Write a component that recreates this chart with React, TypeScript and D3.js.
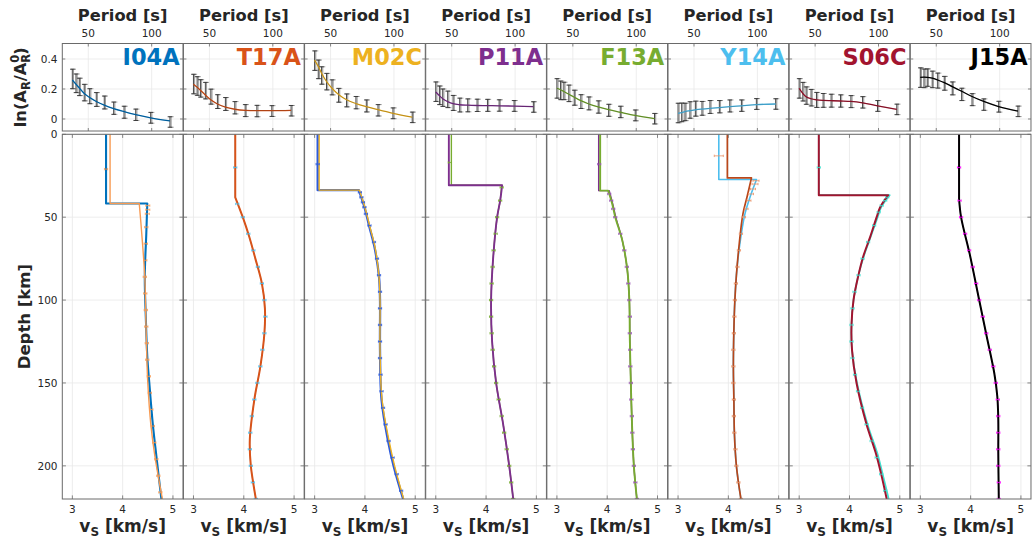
import React from 'react';
import * as d3 from 'd3';

type Pt = [number, number];
type Mk = [number, number, number?];

// ---------- categories ----------
const stations = ['I04A', 'T17A', 'M02C', 'P11A', 'F13A', 'Y14A', 'S06C', 'J15A'];
const stationColors = ['#0072BD', '#D95319', '#EDB120', '#7E2F8E', '#77AC30', '#4DBEEE', '#A2142F', '#000000'];

// ---------- tick labels ----------
const periodTicks = [50, 100];
const ampTicks = [0, 0.2, 0.4];
const ampTickLabels = ['0', '0.2', '0.4'];
const vsTicks = [3, 4, 5];
const depthTicks = [0, 50, 100, 150, 200];

// ---------- amplification data (top row) ----------
const periods = [37.4, 40.3, 42.9, 46.8, 51.1, 56.3, 62.6, 70.0, 78.2, 87.4, 99.2, 114.4];
const ampErr = [0.065, 0.062, 0.058, 0.055, 0.05, 0.046, 0.043, 0.041, 0.04, 0.038, 0.036, 0.035];

const obsI04A = [0.267, 0.238, 0.214, 0.176, 0.152, 0.130, 0.110, 0.072, 0.045, 0.028, 0.008, -0.020];
const fitI04A = [0.260, 0.232, 0.207, 0.170, 0.143, 0.117, 0.092, 0.069, 0.049, 0.029, 0.008, -0.013];
const obsT17A = [0.233, 0.220, 0.204, 0.189, 0.149, 0.116, 0.100, 0.075, 0.056, 0.053, 0.053, 0.055];
const fitT17A = [0.232, 0.212, 0.192, 0.160, 0.128, 0.100, 0.079, 0.065, 0.058, 0.056, 0.056, 0.058];
const obsM02C = [0.389, 0.331, 0.290, 0.249, 0.211, 0.158, 0.124, 0.109, 0.087, 0.058, 0.038, 0.011];
const fitM02C = [0.393, 0.350, 0.305, 0.250, 0.205, 0.163, 0.128, 0.103, 0.082, 0.062, 0.038, 0.012];
const obsP11A = [0.182, 0.158, 0.142, 0.131, 0.107, 0.093, 0.091, 0.091, 0.091, 0.090, 0.087, 0.080];
const fitP11A = [0.180, 0.155, 0.135, 0.116, 0.102, 0.095, 0.092, 0.090, 0.089, 0.088, 0.086, 0.082];
const obsF13A = [0.204, 0.191, 0.187, 0.171, 0.142, 0.116, 0.104, 0.080, 0.058, 0.047, 0.024, 0.002];
const fitF13A = [0.205, 0.195, 0.183, 0.165, 0.145, 0.122, 0.100, 0.080, 0.062, 0.045, 0.024, 0.003];
const obsY14A = [0.040, 0.044, 0.047, 0.060, 0.069, 0.071, 0.080, 0.082, 0.087, 0.089, 0.100, 0.100];
const fitY14A = [0.038, 0.043, 0.049, 0.055, 0.061, 0.066, 0.071, 0.076, 0.082, 0.088, 0.096, 0.100];
const obsS06C = [0.204, 0.182, 0.156, 0.142, 0.127, 0.124, 0.122, 0.120, 0.116, 0.111, 0.087, 0.064];
const fitS06C = [0.204, 0.170, 0.148, 0.135, 0.128, 0.124, 0.122, 0.120, 0.117, 0.108, 0.088, 0.064];
const obsJ15A = [0.276, 0.271, 0.276, 0.264, 0.256, 0.238, 0.204, 0.164, 0.129, 0.096, 0.082, 0.051];
const fitJ15A = [0.278, 0.279, 0.278, 0.272, 0.260, 0.243, 0.216, 0.185, 0.150, 0.117, 0.083, 0.053];

// ---------- shear velocity profiles (bottom row): [depth km, vs km/s]
// first two points = crust (constant), remaining = mantle
const i04aMain: Pt[] = [[0, 3.67], [41.7, 3.67], [41.7, 4.49], [60, 4.47], [86, 4.44], [110, 4.46], [134, 4.49], [150, 4.53], [175, 4.60], [194, 4.67], [220, 4.77]];
const i04aAlt: Pt[] = [[0, 3.75], [41.7, 3.75], [41.7, 4.33], [60, 4.38], [86, 4.44], [110, 4.46], [134, 4.48], [150, 4.50], [175, 4.56], [194, 4.64], [220, 4.79]];
const i04aErr: Mk[] = [[21, 3.67], [43, 4.50, 0.04], [45.5, 4.50, 0.04], [48, 4.49, 0.04], [56, 4.47], [66, 4.46], [76, 4.45], [86, 4.44], [96, 4.45], [106, 4.46], [116, 4.47], [126, 4.48], [136, 4.49], [146, 4.52], [156, 4.54], [166, 4.57], [176, 4.60], [186, 4.63], [196, 4.67], [206, 4.71], [216, 4.75]];

const t17aMain: Pt[] = [[0, 3.83], [38, 3.83], [38, 3.83], [50, 3.98], [62, 4.11], [75, 4.23], [90, 4.36], [105, 4.42], [120, 4.41], [140, 4.33], [160, 4.21], [184, 4.12], [200, 4.14], [220, 4.24]];
const t17aErr: Mk[] = [[20, 3.83], [42, 3.87], [50, 3.98], [60, 4.09], [70, 4.19], [80, 4.28], [90, 4.36], [100, 4.41], [110, 4.43], [120, 4.41], [130, 4.37], [140, 4.33], [150, 4.27], [160, 4.21], [170, 4.16], [180, 4.13], [190, 4.12], [200, 4.14], [210, 4.18], [220, 4.24]];

const m02cMain: Pt[] = [[0, 3.09], [33.7, 3.09], [33.7, 3.89], [44, 4.00], [56, 4.10], [68, 4.20], [86, 4.28], [100, 4.30], [130, 4.30], [160, 4.34], [185, 4.48], [200, 4.59], [220, 4.77]];
const m02cAlt: Pt[] = [[0, 3.06], [33.7, 3.06], [33.7, 3.88], [44, 3.99], [56, 4.09], [68, 4.19], [86, 4.28], [100, 4.30], [130, 4.30], [160, 4.33], [185, 4.46], [200, 4.57], [220, 4.76]];
const m02cErr: Mk[] = [[18, 3.06], [35, 3.90], [38, 3.93], [41, 3.96], [44, 3.99], [48, 4.02], [55, 4.09], [65, 4.18], [75, 4.24], [85, 4.28], [95, 4.30], [105, 4.30], [115, 4.30], [125, 4.30], [135, 4.30], [145, 4.31], [155, 4.33], [165, 4.36], [175, 4.41], [185, 4.47], [195, 4.55], [205, 4.63], [215, 4.72]];

const p11aMain: Pt[] = [[0, 3.26], [30.7, 3.26], [30.7, 4.32], [40, 4.28], [50, 4.22], [75, 4.14], [100, 4.10], [125, 4.12], [150, 4.20], [175, 4.34], [200, 4.46], [220, 4.54]];
const p11aAlt: Pt[] = [[0, 3.31], [30.7, 3.31], [30.7, 4.31], [40, 4.28], [50, 4.22], [75, 4.14], [100, 4.10], [125, 4.12], [150, 4.20], [175, 4.34], [200, 4.46], [220, 4.54]];
const p11aErr: Mk[] = [[17, 3.28], [32, 4.31], [40, 4.28], [50, 4.22], [60, 4.19], [70, 4.15], [80, 4.13], [90, 4.11], [100, 4.10], [110, 4.10], [120, 4.11], [130, 4.13], [140, 4.16], [150, 4.20], [160, 4.25], [170, 4.31], [180, 4.36], [190, 4.41], [200, 4.46], [210, 4.50], [220, 4.54]];

const f13aMain: Pt[] = [[0, 3.86], [34, 3.86], [34, 4.02], [42, 4.10], [50, 4.16], [64, 4.30], [82, 4.40], [100, 4.44], [124, 4.45], [150, 4.47], [172, 4.49], [200, 4.53], [220, 4.59]];
const f13aAlt: Pt[] = [[0, 3.83], [34, 3.83], [34, 4.04], [42, 4.11], [50, 4.17], [64, 4.30], [82, 4.40], [100, 4.44], [124, 4.45], [150, 4.47], [172, 4.49], [200, 4.53], [220, 4.59]];
const f13aErr: Mk[] = [[18, 3.84], [36, 4.04], [40, 4.08], [45, 4.12], [50, 4.16], [60, 4.26], [70, 4.34], [80, 4.39], [90, 4.42], [100, 4.44], [110, 4.45], [120, 4.45], [130, 4.46], [140, 4.46], [150, 4.47], [160, 4.48], [170, 4.49], [180, 4.50], [190, 4.51], [200, 4.53], [210, 4.56], [220, 4.59]];

const y14aMain: Pt[] = [[0, 3.81], [27.3, 3.81], [27.3, 4.56], [38, 4.43], [48, 4.33], [68, 4.22], [85, 4.16], [100, 4.13], [118, 4.11], [140, 4.10], [160, 4.11], [180, 4.12], [200, 4.16], [220, 4.25]];
const y14aAlt: Pt[] = [[0, 3.98], [26.3, 3.98], [26.3, 4.46], [38, 4.37], [48, 4.29], [68, 4.21], [85, 4.16], [100, 4.13], [118, 4.11], [140, 4.10], [160, 4.11], [180, 4.12], [200, 4.16], [220, 4.25]];
const y14aErr: Mk[] = [[13, 3.81, 0.09], [28, 4.55, 0.06], [30, 4.53, 0.06], [33, 4.49, 0.05], [36, 4.45, 0.05], [40, 4.41, 0.04], [45, 4.36], [50, 4.31], [60, 4.25], [70, 4.21], [80, 4.18], [90, 4.15], [100, 4.13], [110, 4.12], [120, 4.11], [130, 4.10], [140, 4.10], [150, 4.10], [160, 4.11], [170, 4.11], [180, 4.12], [190, 4.14], [200, 4.16], [210, 4.20], [220, 4.25]];

const s06cMain: Pt[] = [[0, 3.39], [36.7, 3.39], [36.7, 4.77], [44, 4.61], [50, 4.54], [62, 4.41], [74, 4.27], [86, 4.17], [100, 4.08], [115, 4.04], [130, 4.05], [150, 4.14], [175, 4.34], [192, 4.52], [205, 4.63], [220, 4.74]];
const s06cAlt: Pt[] = [[0, 3.39], [36.7, 3.39], [36.7, 4.80], [44, 4.63], [50, 4.56], [62, 4.42], [74, 4.28], [86, 4.17], [100, 4.08], [115, 4.04], [130, 4.05], [150, 4.15], [175, 4.36], [192, 4.55], [205, 4.66], [220, 4.78]];
const s06cErr: Mk[] = [[20, 3.39], [38, 4.75], [40, 4.71], [43, 4.64], [47, 4.58], [55, 4.49], [65, 4.37], [75, 4.26], [85, 4.18], [95, 4.10], [105, 4.06], [115, 4.04], [125, 4.04], [135, 4.06], [145, 4.11], [155, 4.17], [165, 4.25], [175, 4.34], [185, 4.44], [195, 4.54], [205, 4.63], [215, 4.71]];

const j15aMain: Pt[] = [[0, 3.77], [38.7, 3.77], [38.7, 3.77], [50, 3.81], [72, 3.98], [100, 4.17], [122, 4.32], [144, 4.47], [158, 4.53], [172, 4.55], [192, 4.55], [220, 4.56]];
const j15aErr: Mk[] = [[20, 3.77], [40, 3.78], [50, 3.81], [60, 3.89], [70, 3.97], [80, 4.04], [90, 4.11], [100, 4.17], [110, 4.24], [120, 4.31], [130, 4.38], [140, 4.45], [150, 4.50], [160, 4.54], [170, 4.55], [180, 4.55], [190, 4.55], [200, 4.55], [210, 4.56], [220, 4.56]];

// ---------- assembled per-panel tables ----------
const ampObs = [obsI04A, obsT17A, obsM02C, obsP11A, obsF13A, obsY14A, obsS06C, obsJ15A];
const ampFit = [fitI04A, fitT17A, fitM02C, fitP11A, fitF13A, fitY14A, fitS06C, fitJ15A];

interface LineSpec { data: Pt[]; color: string; width: number }
const profileLines: LineSpec[][] = [
  [{ data: i04aMain, color: '#0072BD', width: 2.1 }, { data: i04aAlt, color: '#F79A52', width: 1.4 }],
  [{ data: t17aMain, color: '#4DBEEE', width: 1.0 }, { data: t17aMain, color: '#D95319', width: 2.0 }],
  [{ data: m02cAlt, color: '#2D5BDB', width: 2.3 }, { data: m02cMain, color: '#EDB120', width: 1.4 }],
  [{ data: p11aAlt, color: '#77AC30', width: 1.4 }, { data: p11aMain, color: '#7E2F8E', width: 1.9 }],
  [{ data: f13aAlt, color: '#7E2F8E', width: 1.4 }, { data: f13aMain, color: '#77AC30', width: 1.9 }],
  [{ data: y14aMain, color: '#4DBEEE', width: 1.6 }, { data: y14aAlt, color: '#B9471A', width: 1.7 }],
  [{ data: s06cAlt, color: '#40E0D0', width: 1.7 }, { data: s06cMain, color: '#A2142F', width: 2.0 }],
  [{ data: j15aMain, color: '#FF00FF', width: 1.0 }, { data: j15aMain, color: '#000000', width: 2.0 }],
];
const errMarks: Mk[][] = [i04aErr, t17aErr, m02cErr, p11aErr, f13aErr, y14aErr, s06cErr, j15aErr];
const errColors = ['#F79A52', '#4DBEEE', '#2D5BDB', '#77AC30', '#9B59B6', '#E9956B', '#40E0D0', '#FF00FF'];

// ---------- layout ----------
const PX0 = 62.3;
const PSTEP = 121.14;
const PW = 120.7;
const TY0 = 43.5;
const TY1 = 131;
const BY0 = 134.3;
const BY1 = 499;
const AXIS = '#6a6a6a';
const GRID = '#e8e8e8';
const TXT = '#262626';
const FONT = 'DejaVu Sans';

function profilePath(pts: Pt[], x: d3.ScaleLinear<number, number>, y: d3.ScaleLinear<number, number>): string {
  const crust = `M${x(pts[0][1])},${y(pts[0][0])}L${x(pts[1][1])},${y(pts[1][0])}`;
  const mantle = d3.line<Pt>().x(d => x(d[1])).y(d => y(d[0])).curve(d3.curveCatmullRom.alpha(0.5))(pts.slice(2)) || '';
  return crust + 'L' + mantle.slice(1);
}

function Panel({ i }: { i: number }) {
  const x0 = PX0 + i * PSTEP;
  const x1 = x0 + PW;
  const xp = d3.scaleLinear().domain([29.5, 124.7]).range([x0, x1]);
  const ya = d3.scaleLinear().domain([-0.08, 0.5033]).range([TY1, TY0]);
  const xv = d3.scaleLinear().domain([2.8, 5.2]).range([x0, x1]);
  const yd = d3.scaleLinear().domain([0, 220]).range([BY0, BY1]);
  const obs = ampObs[i];
  const fit = ampFit[i];
  const fitLine = d3.line<number>().x((_, k) => xp(periods[k])).y(d => ya(d)).curve(d3.curveMonotoneX)(fit) || '';
  const tl = 3;
  return (
    <g>
      <defs>
        <clipPath id={`ct${i}`}><rect x={x0} y={TY0} width={PW} height={TY1 - TY0} /></clipPath>
        <clipPath id={`cb${i}`}><rect x={x0} y={BY0} width={PW} height={BY1 - BY0} /></clipPath>
      </defs>
      {/* ---------- top panel ---------- */}
      {periodTicks.map(p => <line key={'gp' + p} x1={xp(p)} x2={xp(p)} y1={TY0} y2={TY1} stroke={GRID} strokeWidth={0.8} />)}
      {ampTicks.map(a => <line key={'ga' + a} x1={x0} x2={x1} y1={ya(a)} y2={ya(a)} stroke={GRID} strokeWidth={0.8} />)}
      <g clipPath={`url(#ct${i})`}>
        {obs.map((v, k) => {
          const cx = xp(periods[k]);
          const e = ampErr[k];
          return (
            <g key={'eb' + k}>
              <g stroke="#9a9a9a" strokeWidth={1}>
                <line x1={cx + 1.2} x2={cx + 1.2} y1={ya(v - e)} y2={ya(v + e)} />
                <line x1={cx - 1.3} x2={cx + 3.7} y1={ya(v - e)} y2={ya(v - e)} />
                <line x1={cx - 1.3} x2={cx + 3.7} y1={ya(v + e)} y2={ya(v + e)} />
              </g>
              <g stroke="#333" strokeWidth={0.9}>
                <line x1={cx} x2={cx} y1={ya(v - e)} y2={ya(v + e)} />
                <line x1={cx - 2.3} x2={cx + 2.3} y1={ya(v - e)} y2={ya(v - e)} />
                <line x1={cx - 2.3} x2={cx + 2.3} y1={ya(v + e)} y2={ya(v + e)} />
              </g>
            </g>
          );
        })}
        <path d={fitLine} fill="none" stroke={stationColors[i]} strokeWidth={1.3} />
        <path d={fitLine} fill="none" stroke="#000" strokeOpacity={0.35} strokeWidth={0.6} />
      </g>
      <rect x={x0} y={TY0} width={PW} height={TY1 - TY0} fill="none" stroke={AXIS} strokeWidth={1} />
      {periodTicks.map(p => (
        <g key={'tp' + p} stroke={AXIS} strokeWidth={0.8}>
          <line x1={xp(p)} x2={xp(p)} y1={TY0} y2={TY0 + tl} />
          <line x1={xp(p)} x2={xp(p)} y1={TY1} y2={TY1 - tl} />
        </g>
      ))}
      {ampTicks.map(a => (
        <g key={'ta' + a} stroke={AXIS} strokeWidth={0.8}>
          <line x1={x0} x2={x0 + tl} y1={ya(a)} y2={ya(a)} />
          <line x1={x1} x2={x1 - tl} y1={ya(a)} y2={ya(a)} />
        </g>
      ))}
      {periodTicks.map(p => (
        <text key={'lp' + p} x={xp(p)} y={36.5} fontSize={10.5} fill={TXT} textAnchor="middle">{p}</text>
      ))}
      <text x={(x0 + x1) / 2} y={20.5} fontSize={16.3} fontWeight="bold" fill={TXT} textAnchor="middle">Period [s]</text>
      <text x={x1 - 3.3} y={65} fontSize={22.5} fontWeight="bold" fill={stationColors[i]} textAnchor="end">{stations[i]}</text>

      {/* ---------- bottom panel ---------- */}
      {vsTicks.map(v => <line key={'gv' + v} x1={xv(v)} x2={xv(v)} y1={BY0} y2={BY1} stroke={GRID} strokeWidth={0.8} />)}
      {depthTicks.map(d => <line key={'gd' + d} x1={x0} x2={x1} y1={yd(d)} y2={yd(d)} stroke={GRID} strokeWidth={0.8} />)}
      <g clipPath={`url(#cb${i})`}>
        {profileLines[i].map((ln, k) => (
          <path key={'pl' + k} d={profilePath(ln.data, xv, yd)} fill="none" stroke={ln.color} strokeWidth={ln.width} strokeLinejoin="round" />
        ))}
        {errMarks[i].map((m, k) => {
          const e = m[2] ?? 0.032;
          const yy = yd(m[0]);
          return (
            <g key={'mk' + k} stroke={errColors[i]} strokeWidth={0.9} strokeOpacity={0.9}>
              <line x1={xv(m[1] - e)} x2={xv(m[1] + e)} y1={yy} y2={yy} />
              <line x1={xv(m[1] - e)} x2={xv(m[1] - e)} y1={yy - 1.2} y2={yy + 1.2} />
              <line x1={xv(m[1] + e)} x2={xv(m[1] + e)} y1={yy - 1.2} y2={yy + 1.2} />
            </g>
          );
        })}
      </g>
      <rect x={x0} y={BY0} width={PW} height={BY1 - BY0} fill="none" stroke={AXIS} strokeWidth={1} />
      {vsTicks.map(v => (
        <g key={'tv' + v} stroke={AXIS} strokeWidth={0.8}>
          <line x1={xv(v)} x2={xv(v)} y1={BY0} y2={BY0 + 3.6} />
          <line x1={xv(v)} x2={xv(v)} y1={BY1} y2={BY1 - 3.6} />
        </g>
      ))}
      {depthTicks.map(d => (
        <g key={'td' + d} stroke={AXIS} strokeWidth={0.8}>
          <line x1={x0} x2={x0 + 3.6} y1={yd(d)} y2={yd(d)} />
          <line x1={x1} x2={x1 - 3.6} y1={yd(d)} y2={yd(d)} />
        </g>
      ))}
      {vsTicks.map(v => (
        <text key={'lv' + v} x={xv(v)} y={512.5} fontSize={10.5} fill={TXT} textAnchor="middle">{v}</text>
      ))}
      <text x={(x0 + x1) / 2} y={531.5} fontSize={17} fontWeight="bold" fill={TXT} textAnchor="middle">
        v<tspan fontSize={12} dy={4.5}>S</tspan><tspan dy={-4.5}> [km/s]</tspan>
      </text>
      {i === 0 && (
        <g>
          {ampTicks.map((a, k) => (
            <text key={'la' + a} x={57.5} y={ya(a) + 3.8} fontSize={10.5} fill={TXT} textAnchor="end">{ampTickLabels[k]}</text>
          ))}
          {depthTicks.map(d => (
            <text key={'ld' + d} x={57.5} y={yd(d) + 3.8} fontSize={10.5} fill={TXT} textAnchor="end">{d}</text>
          ))}
        </g>
      )}
    </g>
  );
}

export default function App() {
  const yaMid = (TY0 + TY1) / 2;
  const ydMid = (BY0 + BY1) / 2;
  return (
    <svg width={1033} height={548} style={{ position: 'absolute', left: 0, top: 0, background: '#fff' }} fontFamily={FONT}>
      <rect x={0} y={0} width={1033} height={548} fill="#fff" />
      {stations.map((_, i) => <Panel key={i} i={i} />)}
      <text transform={`translate(26,${yaMid}) rotate(-90)`} fontSize={16.3} fontWeight="bold" fill={TXT} textAnchor="middle">
        ln(A<tspan fontSize={11.5} dy={4}>R</tspan><tspan dy={-4}>/A</tspan><tspan fontSize={11.5} dy={4}>R</tspan><tspan fontSize={11.5} dx={-8.9} dy={-11}>0</tspan><tspan dy={7}>)</tspan>
      </text>
      <text transform={`translate(30,${ydMid}) rotate(-90)`} fontSize={16.5} fontWeight="bold" fill={TXT} textAnchor="middle">Depth [km]</text>
    </svg>
  );
}
